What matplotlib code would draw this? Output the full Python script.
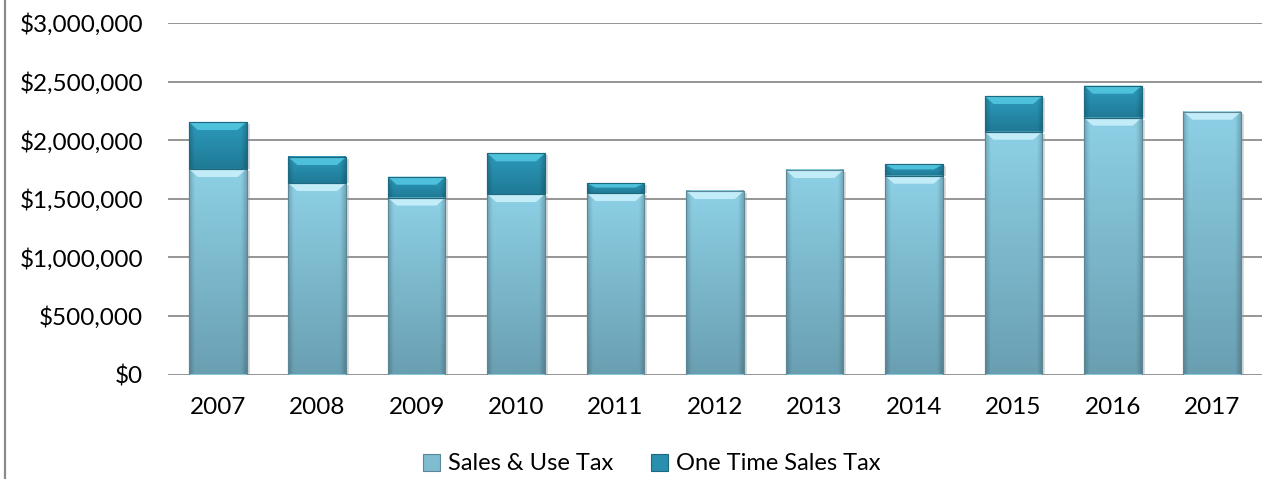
import numpy as np
import matplotlib
matplotlib.use("Agg")
import matplotlib.pyplot as plt
from matplotlib.patches import Polygon, Patch
from matplotlib.lines import Line2D
from matplotlib.ticker import FuncFormatter, MultipleLocator
from matplotlib.colors import to_rgb

years = ["2007", "2008", "2009", "2010", "2011", "2012",
         "2013", "2014", "2015", "2016", "2017"]
sales_use_tax = [1754000, 1634000, 1510000, 1540000, 1549000, 1566000,
                 1745000, 1697000, 2072000, 2192000, 2243000]
one_time_sales_tax = [401000, 222000, 178000, 348000, 85000, 0,
                      0, 97000, 305000, 273000, 0]
series_names = ["Sales & Use Tax", "One Time Sales Tax"]

plt.rcParams["font.family"] = ["Lato", "DejaVu Sans"]

W, H, DPI = 1262, 479, 100
fig = plt.figure(figsize=(W / DPI, H / DPI), dpi=DPI)
ax = fig.add_axes([168 / W, (H - 374.5) / H, 1094 / W, 351.5 / H])

x = np.arange(len(years))
bar_w = 0.58
YMAX = 3000000

light = dict(top="#8dd0e5", bottom="#6a9fb2", bevel="#c9f0fa", edge="#5c8796")
dark = dict(top="#2d9abb", bottom="#1f7a96", bevel="#52c6e0", edge="#1d6a80")

bars_low = ax.bar(x, sales_use_tax, bar_w, color=light["top"],
                  edgecolor=light["edge"], linewidth=0.8, zorder=2)
bars_high = ax.bar(x, one_time_sales_tax, bar_w, bottom=sales_use_tax,
                   color=dark["top"], edgecolor=dark["edge"],
                   linewidth=0.8, zorder=2)

ax.set_xlim(-0.5, len(years) - 0.5)
ax.set_ylim(0, YMAX)

# size of one pixel in data units, used for the bevel details
px_x = (len(years)) / 1094.0
px_y = YMAX / 351.5


def shade_bar(patch, style):
    bx, by = patch.get_xy()
    bw, bh = patch.get_width(), patch.get_height()
    if bh <= 0:
        return
    # soft drop shadow
    ax.add_patch(Polygon([(bx + 2 * px_x, by), (bx + bw + 3 * px_x, by),
                          (bx + bw + 3 * px_x, by + bh - 2 * px_y),
                          (bx + 2 * px_x, by + bh - 2 * px_y)],
                         closed=True, facecolor="#9a9a9a", alpha=0.35,
                         edgecolor="none", zorder=1.5))
    rows, cols = 80, 40
    t = np.linspace(0, 1, rows)[:, None, None]
    top = np.array(to_rgb(style["top"]))
    bot = np.array(to_rgb(style["bottom"]))
    base = top * (1 - t) + bot * t
    u = np.linspace(0, 1, cols)
    edge = np.clip(np.minimum(u, 1 - u) / 0.09, 0, 1)
    factor = 0.82 + 0.18 * edge
    img = np.clip(base * factor[None, :, None], 0, 1)
    ax.imshow(img, extent=(bx, bx + bw, by, by + bh), aspect="auto",
              origin="upper", interpolation="bilinear", zorder=2.1)
    bev_h = min(8 * px_y, bh * 0.45)
    inset = 9 * px_x
    ax.add_patch(Polygon([(bx, by + bh), (bx + bw, by + bh),
                          (bx + bw - inset, by + bh - bev_h),
                          (bx + inset, by + bh - bev_h)],
                         closed=True, facecolor=style["bevel"],
                         edgecolor="none", alpha=0.9, zorder=2.2))
    # outline on top of the shading
    ax.add_patch(Polygon([(bx, by), (bx + bw, by), (bx + bw, by + bh),
                          (bx, by + bh)], closed=True, facecolor="none",
                         edgecolor=style["edge"], linewidth=0.8,
                         zorder=2.3))


for p in bars_low:
    shade_bar(p, light)
for p in bars_high:
    shade_bar(p, dark)

ax.set_xlim(-0.5, len(years) - 0.5)
ax.set_ylim(0, YMAX)
ax.set_aspect("auto")

ax.yaxis.set_major_locator(MultipleLocator(500000))
ax.yaxis.set_major_formatter(FuncFormatter(lambda v, _: f"${v:,.0f}"))
ax.grid(axis="y", color="#8c8c8c", linewidth=1.3, zorder=0)
ax.set_axisbelow(True)
for s in ax.spines.values():
    s.set_visible(False)
ax.set_xticks(x)
ax.set_xticklabels(years)
ax.tick_params(axis="y", length=0, pad=18, labelsize=17.5, labelcolor="#000000")
ax.tick_params(axis="x", length=0, pad=16, labelsize=17.5, labelcolor="#000000")

handles = [Patch(facecolor="#7fbcd0", edgecolor="#5c8796", linewidth=0.8),
           Patch(facecolor="#2a8fae", edgecolor="#1d6a80", linewidth=0.8)]
fig.legend(handles, series_names, loc="center",
           bbox_to_anchor=(652 / W, 1 - 464 / H), ncol=2, frameon=False,
           fontsize=17, handlelength=0.7, handleheight=0.7,
           handletextpad=0.35, columnspacing=1.6, borderpad=0)

fig.add_artist(Line2D([5 / W, 5 / W], [0, 1], color="#8a8a8a",
                      linewidth=1.6, transform=fig.transFigure))

fig.savefig("out.png", dpi=DPI)
